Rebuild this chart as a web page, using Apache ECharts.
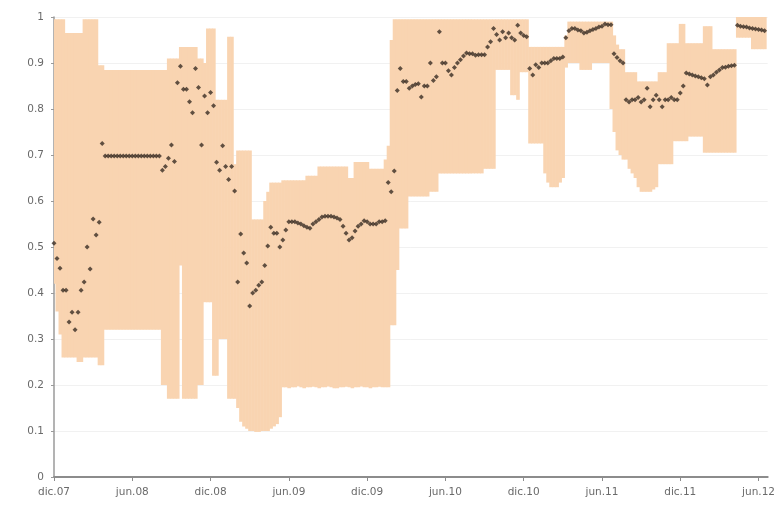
<!DOCTYPE html>
<html>
<head>
<meta charset="utf-8">
<script src="https://cdn.jsdelivr.net/npm/echarts@6/dist/echarts.min.js"></script>
<style>html,body{margin:0;padding:0;background:#fff}#c{width:778px;height:507px}</style>
</head>
<body>
<div id="c"></div>
<script>
// x tick labels, one every 6 months starting Dec 2007
const tickLabels = ['dic.07','jun.08','dic.08','jun.09','dic.09','jun.10','dic.10','jun.11','dic.11','jun.12'];
const tickMonths = [0, 6, 12, 18, 24, 30, 36, 42, 48, 54];

// weekly point estimates (week 0 = start of Dec 2007)
const estimate = [
0.508,0.475,0.454,0.406,0.406,0.337,0.358,0.32,0.358,0.406,
0.424,0.5,0.452,0.561,0.526,0.554,0.725,0.698,0.698,0.698,
0.698,0.698,0.698,0.698,0.698,0.698,0.698,0.698,0.698,0.698,
0.698,0.698,0.698,0.698,0.698,0.698,0.667,0.675,0.693,0.722,
0.686,0.857,0.893,0.843,0.843,0.816,0.792,0.888,0.847,0.722,
0.828,0.792,0.836,0.807,0.684,0.667,0.72,0.675,0.647,0.675,
0.622,0.424,0.528,0.487,0.465,0.372,0.40,0.406,0.417,0.424,
0.46,0.502,0.543,0.53,0.53,0.5,0.515,0.537,0.555,0.555,
0.555,0.552,0.55,0.546,0.543,0.541,0.55,0.555,0.56,0.565,
0.567,0.567,0.567,0.565,0.563,0.56,0.545,0.53,0.515,0.52,
0.535,0.545,0.55,0.557,0.555,0.55,0.55,0.55,0.555,0.555,
0.557,0.64,0.62,0.665,0.84,0.888,0.86,0.86,0.845,0.85,
0.853,0.855,0.826,0.85,0.85,0.9,0.862,0.87,0.968,0.9,
0.9,0.883,0.874,0.89,0.9,0.907,0.915,0.922,0.92,0.92,
0.917,0.918,0.918,0.918,0.935,0.946,0.975,0.962,0.95,0.968,
0.955,0.965,0.955,0.95,0.982,0.965,0.96,0.957,0.888,0.874,
0.896,0.89,0.9,0.9,0.9,0.905,0.91,0.91,0.91,0.913,
0.955,0.97,0.975,0.975,0.972,0.97,0.965,0.967,0.97,0.973,
0.975,0.978,0.98,0.985,0.983,0.983,0.92,0.912,0.905,0.9,
0.82,0.815,0.82,0.82,0.825,0.815,0.82,0.845,0.805,0.82,
0.83,0.82,0.805,0.82,0.82,0.825,0.82,0.82,0.835,0.85,
0.878,0.876,0.874,0.872,0.87,0.868,0.866,0.852,0.87,0.874,
0.88,0.885,0.89,0.891,0.893,0.894,0.895,0.982,0.98,0.979,
0.978,0.976,0.975,0.974,0.973,0.972,0.97
];

// weekly lower bound of the range
const lower = [
0.42,0.36,0.31,0.26,0.26,0.26,0.26,0.26,0.25,0.25,
0.26,0.26,0.26,0.26,0.26,0.243,0.243,0.32,0.32,0.32,
0.32,0.32,0.32,0.32,0.32,0.32,0.32,0.32,0.32,0.32,
0.32,0.32,0.32,0.32,0.32,0.32,0.2,0.2,0.17,0.17,
0.17,0.17,0.46,0.17,0.17,0.17,0.17,0.17,0.2,0.2,
0.38,0.38,0.38,0.22,0.22,0.3,0.3,0.3,0.17,0.17,
0.17,0.15,0.12,0.11,0.105,0.1,0.1,0.098,0.098,0.1,
0.1,0.1,0.105,0.11,0.115,0.13,0.195,0.195,0.193,0.195,
0.195,0.197,0.195,0.193,0.195,0.195,0.196,0.195,0.193,0.195,
0.195,0.197,0.195,0.193,0.193,0.195,0.195,0.196,0.195,0.193,
0.195,0.195,0.197,0.195,0.195,0.193,0.195,0.195,0.196,0.195,
0.195,0.195,0.33,0.33,0.45,0.54,0.54,0.54,0.61,0.61,
0.61,0.61,0.61,0.61,0.61,0.62,0.62,0.62,0.66,0.66,
0.66,0.66,0.66,0.66,0.66,0.66,0.66,0.66,0.66,0.66,
0.66,0.66,0.66,0.67,0.67,0.67,0.67,0.885,0.885,0.885,
0.885,0.885,0.83,0.83,0.82,0.88,0.88,0.88,0.725,0.725,
0.725,0.725,0.725,0.66,0.64,0.63,0.63,0.63,0.64,0.65,
0.89,0.9,0.9,0.9,0.9,0.885,0.885,0.885,0.885,0.9,
0.9,0.9,0.9,0.9,0.9,0.8,0.75,0.71,0.7,0.69,
0.69,0.67,0.66,0.65,0.63,0.62,0.62,0.62,0.62,0.625,
0.63,0.68,0.68,0.68,0.68,0.68,0.73,0.73,0.73,0.73,
0.73,0.74,0.74,0.74,0.74,0.74,0.705,0.705,0.705,0.705,
0.705,0.705,0.705,0.705,0.705,0.705,0.705,0.955,0.955,0.955,
0.955,0.955,0.93,0.93,0.93,0.93,0.93
];

// weekly upper bound of the range
const upper = [
0.995,0.995,0.995,0.995,0.965,0.965,0.965,0.965,0.965,0.965,
0.995,0.995,0.995,0.995,0.995,0.895,0.895,0.885,0.885,0.885,
0.885,0.885,0.885,0.885,0.885,0.885,0.885,0.885,0.885,0.885,
0.885,0.885,0.885,0.885,0.885,0.885,0.885,0.885,0.91,0.91,
0.91,0.91,0.935,0.935,0.935,0.935,0.935,0.935,0.91,0.91,
0.9,0.975,0.975,0.975,0.82,0.82,0.82,0.82,0.957,0.957,
0.68,0.71,0.71,0.71,0.71,0.71,0.56,0.56,0.56,0.56,
0.6,0.62,0.64,0.64,0.64,0.64,0.645,0.645,0.645,0.645,
0.645,0.645,0.645,0.645,0.655,0.655,0.655,0.655,0.675,0.675,
0.675,0.675,0.675,0.675,0.675,0.675,0.675,0.675,0.65,0.65,
0.685,0.685,0.685,0.685,0.685,0.67,0.67,0.67,0.67,0.67,
0.69,0.72,0.95,0.995,0.995,0.995,0.995,0.995,0.995,0.995,
0.995,0.995,0.995,0.995,0.995,0.995,0.995,0.995,0.995,0.995,
0.995,0.995,0.995,0.995,0.995,0.995,0.995,0.995,0.995,0.995,
0.995,0.995,0.995,0.995,0.995,0.995,0.995,0.995,0.995,0.995,
0.995,0.995,0.995,0.995,0.995,0.995,0.995,0.995,0.935,0.935,
0.935,0.935,0.935,0.935,0.935,0.935,0.935,0.935,0.935,0.935,
0.96,0.99,0.99,0.99,0.99,0.99,0.99,0.99,0.99,0.99,
0.99,0.99,0.99,0.99,0.99,0.99,0.96,0.94,0.93,0.93,
0.88,0.88,0.88,0.88,0.86,0.86,0.86,0.86,0.86,0.86,
0.86,0.88,0.88,0.88,0.943,0.943,0.943,0.943,0.985,0.985,
0.943,0.943,0.943,0.943,0.943,0.943,0.98,0.98,0.98,0.93,
0.93,0.93,0.93,0.93,0.93,0.93,0.93,1.0,1.0,1.0,
1.0,1.0,1.0,1.0,1.0,1.0,1.0
];

const WEEK_IN_MONTHS = 12 / 52;
const xOf = i => i * WEEK_IN_MONTHS;
const bandData = upper.map((v, i) => [xOf(i), lower[i], v]);
const estData = estimate.map((v, i) => [xOf(i), v]);

const chart = echarts.init(document.getElementById('c'), null, {renderer: 'canvas'});
const txt = {color: '#6a6a6a', fontFamily: 'DejaVu Sans', fontSize: 10.5};
const half = WEEK_IN_MONTHS / 2;
chart.setOption({
  animation: false,
  backgroundColor: '#ffffff',
  grid: {left: 54, right: 8, top: 17, bottom: 30, containLabel: false},
  xAxis: {
    type: 'value', min: 0, max: 54.7,
    axisLine: {show: true, lineStyle: {color: '#8c8c8c', width: 2}},
    axisTick: {show: true, customValues: tickMonths, length: 4, lineStyle: {color: '#8c8c8c'}},
    axisLabel: Object.assign({
      customValues: tickMonths, margin: 10,
      formatter: v => tickLabels[tickMonths.indexOf(Math.round(v))] || ''
    }, txt),
    splitLine: {show: false}
  },
  yAxis: {
    type: 'value', min: 0, max: 1, interval: 0.1,
    axisLine: {show: true, lineStyle: {color: '#9a9a9a', width: 1.5}},
    axisTick: {show: true, length: 3, lineStyle: {color: '#9a9a9a'}},
    axisLabel: Object.assign({
      margin: 10,
      formatter: v => (v === 0 ? '0' : (Math.abs(v - 1) < 1e-9 ? '1' : v.toFixed(1)))
    }, txt),
    splitLine: {show: true, lineStyle: {color: '#f1f1f1', width: 1}}
  },
  series: [
    {
      type: 'custom', data: bandData, silent: true, z: 1,
      encode: {x: 0, y: [1, 2]},
      renderItem: (params, api) => {
        const x = api.value(0), lo = api.value(1), hi = api.value(2);
        const a = api.coord([x - half, hi]);
        const b = api.coord([x + half, lo]);
        const cs = params.coordSys;
        const left = Math.max(a[0], cs.x);
        const right = Math.min(b[0] + 0.6, cs.x + cs.width);
        return {
          type: 'rect',
          shape: {x: left, y: a[1], width: right - left, height: b[1] - a[1]},
          style: {fill: '#f9d4b1'}
        };
      }
    },
    {
      type: 'scatter', data: estData, symbol: 'diamond', symbolSize: 5,
      itemStyle: {color: '#3a2d24'}, z: 3
    }
  ]
});
</script>
</body>
</html>
